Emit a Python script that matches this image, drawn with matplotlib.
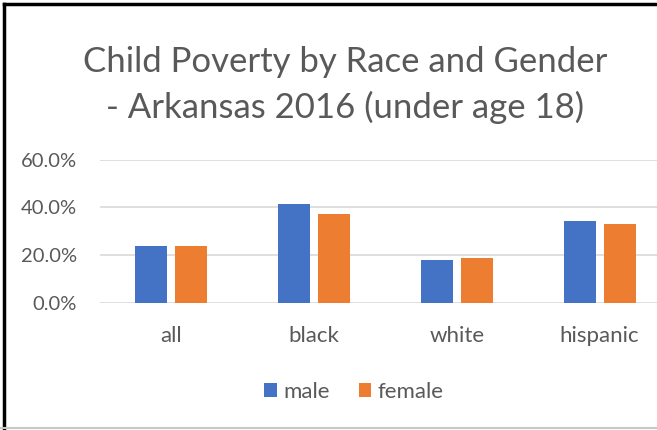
import matplotlib.pyplot as plt
from matplotlib.lines import Line2D
from matplotlib.ticker import PercentFormatter
import numpy as np

plt.rcParams['font.family'] = ['Lato', 'DejaVu Sans']

categories = ['all', 'black', 'white', 'hispanic']
male = [23.8, 41.4, 17.8, 34.1]
female = [23.8, 37.2, 18.9, 32.9]
yticks = [0, 20, 40, 60]

text_color = '#595959'
colors = ['#4472C4', '#ED7D31']

fig = plt.figure(figsize=(6.57, 4.30), dpi=100)
# plot area (right side of the original chart is cropped)
ax = fig.add_axes([100 / 657, 1 - 302.7 / 430, 571 / 657, 143.2 / 430])

x = np.arange(len(categories))
w = 0.225
off = 0.14
ax.bar(x - off, male, width=w, color=colors[0], label='male', zorder=3)
ax.bar(x + off, female, width=w, color=colors[1], label='female', zorder=3)

ax.set_xlim(-0.5, len(categories) - 0.5)
ax.set_ylim(0, 60)
ax.set_yticks(yticks)
ax.yaxis.set_major_formatter(PercentFormatter(decimals=1))
ax.set_xticks(x)
ax.set_xticklabels(categories)
ax.grid(axis='y', color='#d9d9d9', linewidth=1.2, zorder=0)
ax.set_axisbelow(True)
for s in ax.spines.values():
    s.set_visible(False)
ax.tick_params(length=0, colors=text_color)
ax.tick_params(axis='x', pad=16.5, labelsize=16)
ax.tick_params(axis='y', pad=16.5, labelsize=14.5)

fig.text(345 / 657, 1 - 62 / 430, 'Child Poverty by Race and Gender',
         ha='center', va='center', fontsize=25, color=text_color)
fig.text(345 / 657, 1 - 107 / 430, '- Arkansas 2016 (under age 18)',
         ha='center', va='center', fontsize=25, color=text_color)

fig.legend(loc='center', bbox_to_anchor=(354 / 657, 1 - 392 / 430), ncol=2,
           frameon=False, fontsize=16, labelcolor=text_color,
           handlelength=0.55, handleheight=0.55, handletextpad=0.3,
           columnspacing=1.3)

# chart frame
fig.add_artist(Line2D([4 / 657, 4 / 657], [0, 1 - 4 / 430], color='black', linewidth=2.5))
fig.add_artist(Line2D([4 / 657, 1], [1 - 4 / 430, 1 - 4 / 430], color='black', linewidth=2.5))
fig.add_artist(Line2D([0, 1], [2 / 430, 2 / 430], color='#c8c8c8', linewidth=1.5))

fig.savefig('out.png', dpi=100)
